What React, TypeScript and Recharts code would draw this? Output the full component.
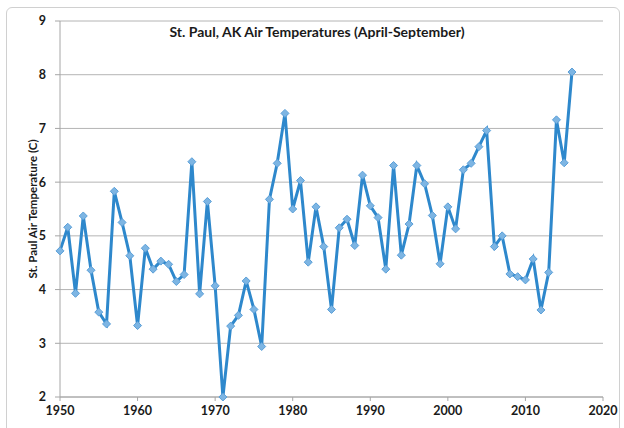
import React from 'react';
import { LineChart, Line, XAxis, YAxis, CartesianGrid } from 'recharts';

const years = [
  1950, 1951, 1952, 1953, 1954, 1955, 1956, 1957, 1958, 1959,
  1960, 1961, 1962, 1963, 1964, 1965, 1966, 1967, 1968, 1969,
  1970, 1971, 1972, 1973, 1974, 1975, 1976, 1977, 1978, 1979,
  1980, 1981, 1982, 1983, 1984, 1985, 1986, 1987, 1988, 1989,
  1990, 1991, 1992, 1993, 1994, 1995, 1996, 1997, 1998, 1999,
  2000, 2001, 2002, 2003, 2004, 2005, 2006, 2007, 2008, 2009,
  2010, 2011, 2012, 2013, 2014, 2015, 2016,
];

const temps = [
  4.72, 5.16, 3.93, 5.37, 4.36, 3.58, 3.36, 5.83, 5.25, 4.63,
  3.33, 4.77, 4.38, 4.53, 4.47, 4.15, 4.28, 6.38, 3.92, 5.64,
  4.07, 2.0, 3.32, 3.52, 4.16, 3.63, 2.94, 5.68, 6.35, 7.28,
  5.5, 6.03, 4.51, 5.54, 4.8, 3.63, 5.15, 5.31, 4.82, 6.13,
  5.56, 5.34, 4.38, 6.31, 4.64, 5.22, 6.31, 5.97, 5.38, 4.48,
  5.54, 5.13, 6.23, 6.35, 6.66, 6.96, 4.8, 5.0, 4.29, 4.24,
  4.18, 4.57, 3.62, 4.32, 7.16, 6.36, 8.05,
];

const xTicks = [1950, 1960, 1970, 1980, 1990, 2000, 2010, 2020];
const yTicks = [2, 3, 4, 5, 6, 7, 8, 9];

const data = years.map((year, i) => ({ year, temp: temps[i] }));

const font = 'Lato, "Open Sans", sans-serif';

const Diamond = (props: any) => {
  const { cx, cy } = props;
  if (cx == null || cy == null) return null;
  const r = 4;
  return (
    <path
      key={`d-${props.index}`}
      d={`M${cx},${cy - r}L${cx + r},${cy}L${cx},${cy + r}L${cx - r},${cy}Z`}
      fill="#7db5e3"
      stroke="#5a9fd8"
      strokeWidth={1}
    />
  );
};

const App: React.FC = () => {
  return (
    <div style={{ position: 'absolute', left: 0, top: 0, width: 624, height: 428, background: '#fff', overflow: 'hidden' }}>
      <div
        style={{
          position: 'absolute',
          left: 6,
          top: 7,
          width: 612,
          height: 440,
          border: '1px solid #d0d0d0',
          borderRadius: 6,
        }}
      />
      <LineChart width={624} height={428} data={data} margin={{ top: 21, right: 21, bottom: 6, left: 0 }}>
        <CartesianGrid vertical={false} stroke="#b4b4b4" strokeWidth={1} />
        <XAxis
          dataKey="year"
          type="number"
          domain={[1950, 2020]}
          ticks={xTicks}
          height={25}
          tickSize={4}
          tickMargin={5}
          stroke="#a6a6a6"
          tick={{ fill: '#1a1a1a', fontSize: 12.5, fontWeight: 'bold', fontFamily: font }}
        />
        <YAxis
          type="number"
          domain={[2, 9]}
          ticks={yTicks}
          width={60}
          tickSize={5}
          tickMargin={9}
          stroke="#a6a6a6"
          tick={{ fill: '#1a1a1a', fontSize: 12.5, fontWeight: 'bold', fontFamily: font }}
          label={{
            value: 'St. Paul Air Temperature (C)',
            angle: -90,
            position: 'center',
            dx: 3,
            style: { fill: '#1a1a1a', fontSize: 11.5, fontWeight: 'bold', fontFamily: font, textAnchor: 'middle' },
          }}
        />
        <Line
          dataKey="temp"
          type="linear"
          stroke="#2e88cc"
          strokeWidth={3}
          dot={<Diamond />}
          activeDot={false}
          isAnimationActive={false}
        />
      </LineChart>
      <div
        style={{
          position: 'absolute',
          left: 0,
          top: 23,
          width: 634,
          textAlign: 'center',
          fontFamily: font,
          fontWeight: 'bold',
          fontSize: 14,
          color: '#1a1a1a',
          lineHeight: '18px',
        }}
      >
        St. Paul, AK Air Temperatures (April-September)
      </div>
    </div>
  );
};

export default App;
